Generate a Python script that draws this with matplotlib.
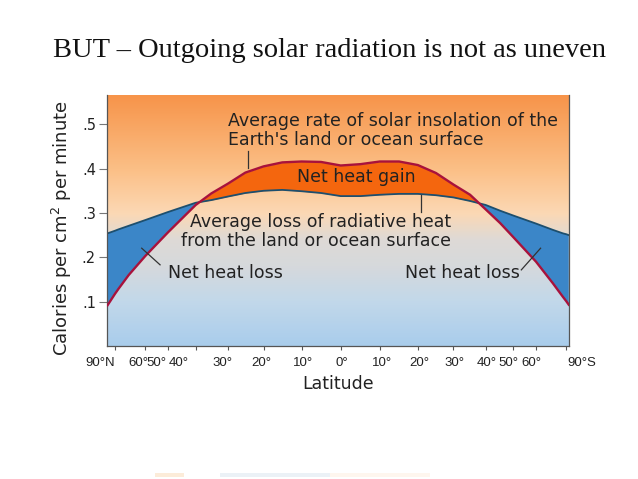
import numpy as np
import matplotlib
matplotlib.use("Agg")
import matplotlib.pyplot as plt
import matplotlib.transforms as mtransforms
from matplotlib.colors import LinearSegmentedColormap
from matplotlib.patches import Rectangle

plt.rcParams['font.family'] = ['DejaVu Sans']
plt.rcParams['mathtext.fontset'] = 'dejavusans'

# latitude in degrees (north negative); -93 and 91 are the plot edges
lat = [-93, -90, -80, -70, -60, -50, -40, -35, -30, -25, -20, -15, -10, -5, 0,
       5, 10, 15, 20, 25, 30, 35, 40, 45, 50, 60, 70, 80, 90, 91]
# incoming solar insolation (cal / cm2 / min)
insolation = [0.092, 0.118, 0.129, 0.160, 0.203, 0.256, 0.318, 0.344, 0.366, 0.391,
              0.405, 0.414, 0.416, 0.415, 0.407, 0.410, 0.416, 0.416, 0.408, 0.390,
              0.364, 0.341, 0.308, 0.277, 0.245, 0.190, 0.142, 0.111, 0.101, 0.093]
# outgoing radiative heat loss
outgoing = [0.254, 0.260, 0.263, 0.271, 0.284, 0.302, 0.323, 0.329, 0.337, 0.345,
            0.350, 0.352, 0.349, 0.345, 0.338, 0.338, 0.341, 0.343, 0.343, 0.340,
            0.335, 0.327, 0.318, 0.305, 0.294, 0.276, 0.262, 0.254, 0.252, 0.250]

tick_lat = [-90, -60, -50, -40, -30, -20, -10, 0, 10, 20, 30, 40, 50, 60, 90]
tick_labels = ['90°N', '60°', '50°', '40°', '30°', '20°', '10°', '0°',
               '10°', '20°', '30°', '40°', '50°', '60°', '90°S']
y_ticks = [0.1, 0.2, 0.3, 0.4, 0.5]
y_labels = ['.1', '.2', '.3', '.4', '.5']


# x axis is area weighted (sine of latitude), extended linearly past the poles
def fwd(d):
    d = np.asarray(d, float)
    s = np.sin(np.radians(np.clip(d, -90, 90)))
    return s + np.sign(d) * np.clip(np.abs(d) - 90, 0, None) / 90


def inv(s):
    s = np.asarray(s, float)
    a = np.degrees(np.arcsin(np.clip(s, -1, 1)))
    return a + np.sign(s) * np.clip(np.abs(s) - 1, 0, None) * 90


lat = np.array(lat, float)
insolation = np.array(insolation)
outgoing = np.array(outgoing)

fig = plt.figure(figsize=(6.38, 4.79), dpi=100)
fig.patch.set_facecolor('white')
ax = fig.add_axes([0.1677, 0.2777, 0.7241, 0.524])
ax.set_xscale('function', functions=(fwd, inv))

ymax = 0.566
stops = [(0.0, '#a9cdec'), (0.10, '#c2d8ea'), (0.18, '#d6d9dc'), (0.24, '#dedad6'),
         (0.30, '#fcd8b4'), (0.40, '#fbbf86'), (ymax, '#f7944a')]
bg_cmap = LinearSegmentedColormap.from_list('bg', [(v / ymax, c) for v, c in stops])
ax.imshow(np.linspace(0, 1, 256).reshape(-1, 1), extent=[0, 1, 0, 1], origin='lower',
          transform=ax.transAxes, aspect='auto', cmap=bg_cmap, zorder=0)

ax.fill_between(lat, outgoing, insolation, where=insolation >= outgoing,
                interpolate=True, color='#f4660e', lw=0, zorder=1)
ax.fill_between(lat, outgoing, insolation, where=insolation <= outgoing,
                interpolate=True, color='#3b86c8', lw=0, zorder=1)
ax.plot(lat, outgoing, color='#1d4f6e', lw=1.3, zorder=2)
ax.plot(lat, insolation, color='#a8123c', lw=1.7, zorder=3)

ax.set_xlim(-93.24, 91.08)
ax.set_ylim(0, ymax)

ax.set_xticks(tick_lat)
ax.set_xticklabels(tick_labels)
ax.xaxis.set_minor_locator(matplotlib.ticker.NullLocator())
ax.set_yticks(y_ticks)
ax.set_yticklabels(y_labels)
ax.tick_params(axis='x', length=3, width=0.8, color='#555555', labelsize=9.5,
               labelfontfamily='Liberation Sans', labelcolor='#222222', pad=5)
ax.tick_params(axis='y', length=6, width=0.8, color='#777777', labelsize=10.5,
               labelcolor='#222222', pad=2)

# the crowded latitude labels are nudged sideways like in the original drawing
label_shift = [-15, -7, -11, -17, -5, -2.5, 1, 1, 2, 1, 1, 1, -5.5, -4.5, 16]
for lbl, dx in zip(ax.get_xticklabels(), label_shift):
    lbl.set_transform(lbl.get_transform() +
                      mtransforms.ScaledTranslation(dx / 100, 0, fig.dpi_scale_trans))

for side in ['left', 'right', 'bottom']:
    ax.spines[side].set_color('#555555')
    ax.spines[side].set_linewidth(0.9)
ax.spines['top'].set_visible(False)

ax.set_xlabel('Latitude', fontsize=12.5, color='#222222', labelpad=4)
ax.set_ylabel('Calories per cm$^2$ per minute', fontsize=13, color='#222222')
ax.yaxis.label.set_va('center')
ax.yaxis.set_label_coords(-0.098, 0.468)

txt = dict(color='#222222', fontsize=12.5, zorder=5)
ax.text(-30.0, 0.4865, 'Average rate of solar insolation of the\nEarth\'s land or ocean surface',
        ha='left', va='center', linespacing=1.1, **txt)
ax.text(-11.2, 0.382, 'Net heat gain', ha='left', va='center', **txt)
ax.text(29.3, 0.258, 'Average loss of radiative heat\nfrom the land or ocean surface',
        ha='right', va='center', multialignment='right', linespacing=1.1, **txt)
ax.text(-49.95, 0.164, 'Net heat loss', ha='left', va='center', **txt)
ax.text(16.6, 0.164, 'Net heat loss', ha='left', va='center', **txt)

lead = dict(color='#333333', lw=0.9, zorder=4)
ax.plot([-24.3, -24.3], [0.4386, 0.401], **lead)
ax.plot([20.9, 20.9], [0.341, 0.303], **lead)
ax.plot([-61.9, -53.2], [0.2205, 0.183], **lead)
ax.plot([53.2, 62.4], [0.1716, 0.2205], **lead)

fig.text(0.517, 0.8956, 'BUT – Outgoing solar radiation is not as uneven',
         family='Liberation Serif', fontsize=20.5, ha='center', va='center', color='#111111')

# faint edge of the next slide image at the bottom
for x0, x1, c in [(155, 184, '#fcecd9'), (220, 330, '#ebf1f6'), (330, 430, '#fef6ee')]:
    fig.patches.append(Rectangle((x0 / 638, 2 / 479), (x1 - x0) / 638, 4 / 479,
                                 transform=fig.transFigure, color=c, lw=0))

fig.savefig('out.png', dpi=100)
